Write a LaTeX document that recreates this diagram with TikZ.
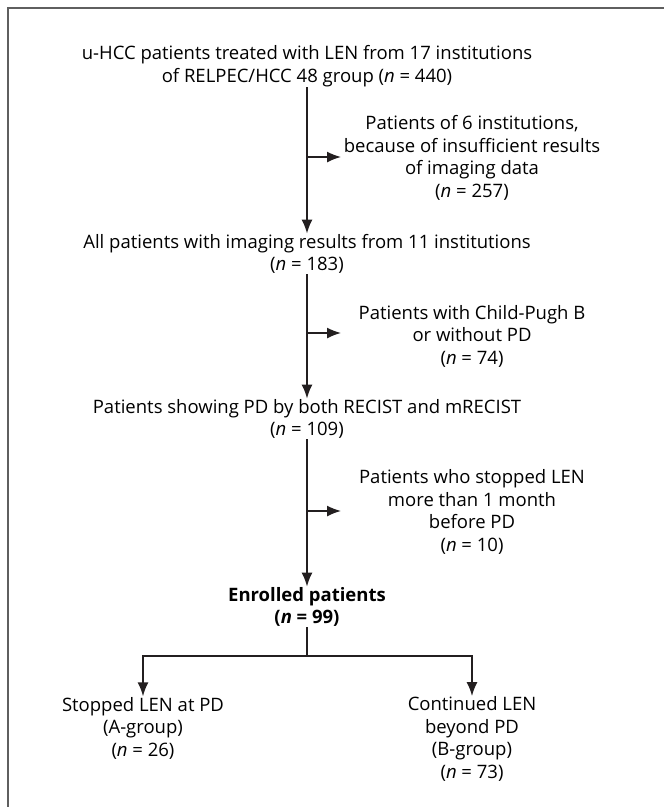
\documentclass[tikz,border=0pt]{standalone}
\usepackage{fontspec}
\setmainfont{Open Sans}
\usetikzlibrary{arrows.meta,positioning}

\definecolor{ink}{RGB}{35,31,32}
\definecolor{framegray}{RGB}{95,95,95}

\newcommand{\ncount}[1]{(\textit{n} = #1)}

\tikzset{
  box/.style={align=center, inner sep=0.5pt, font=\fontsize{18.5}{22.5}\selectfont},
  arr/.style={draw=ink, line width=1.5pt, -{Latex[length=14pt,width=11pt]}},
  link/.style={draw=ink, line width=1.5pt},
}

\begin{document}
\begin{tikzpicture}[x=1pt,y=-1pt]
            \useasboundingbox (0,0) rectangle (664,807);
            \draw[framegray, line width=2pt] (664,8) -- (8,8) -- (8,807);

            % main column
            \node[box] (top) at (307,66) {u-HCC patients treated with LEN from 17 institutions\\of RELPEC/HCC 48 group \ncount{440}};
            \node[box] (imaging) at (307,254) {All patients with imaging results from 11 institutions\\\ncount{183}};
            \node[box] (pd) at (307,419) {Patients showing PD by both RECIST and mRECIST\\\ncount{109}};
            \node[box, font=\fontsize{18.5}{22.5}\selectfont\bfseries] (enrolled) at (307,607) {Enrolled patients\\(\textbf{\textit{n}} = 99)};

            % excluded
            \node[box] (excl1) at (472,158) {Patients of 6 institutions,\\because of insufficient results\\of imaging data\\\ncount{257}};
            \node[box] (excl2) at (472,336) {Patients with Child-Pugh B\\or without PD\\\ncount{74}};
            \node[box] (excl3) at (472,512) {Patients who stopped LEN\\more than 1 month\\before PD\\\ncount{10}};

            % groups
            \node[box] (groupA) at (143,728) {Stopped LEN at PD\\(A-group)\\\ncount{26}};
            \node[box] (groupB) at (472,739) {Continued LEN\\beyond PD\\(B-group)\\\ncount{73}};

            \coordinate (e1) at (341,157);
            \coordinate (e2) at (341,333);
            \coordinate (e3) at (341,511);
            \coordinate (split) at (307,656);

            \draw[arr] (top) -- (imaging);
            \draw[arr] (imaging) -- (pd);
            \draw[arr] (pd) -- (enrolled);
            \draw[arr] (top.south |- e1) -- (e1);
            \draw[arr] (imaging.south |- e2) -- (e2);
            \draw[arr] (pd.south |- e3) -- (e3);

            \draw[link] (enrolled) -- (split);
            \draw[arr] (split) -| (groupA);
            \draw[arr] (split) -| (groupB);
        \end{tikzpicture}
\end{document}
